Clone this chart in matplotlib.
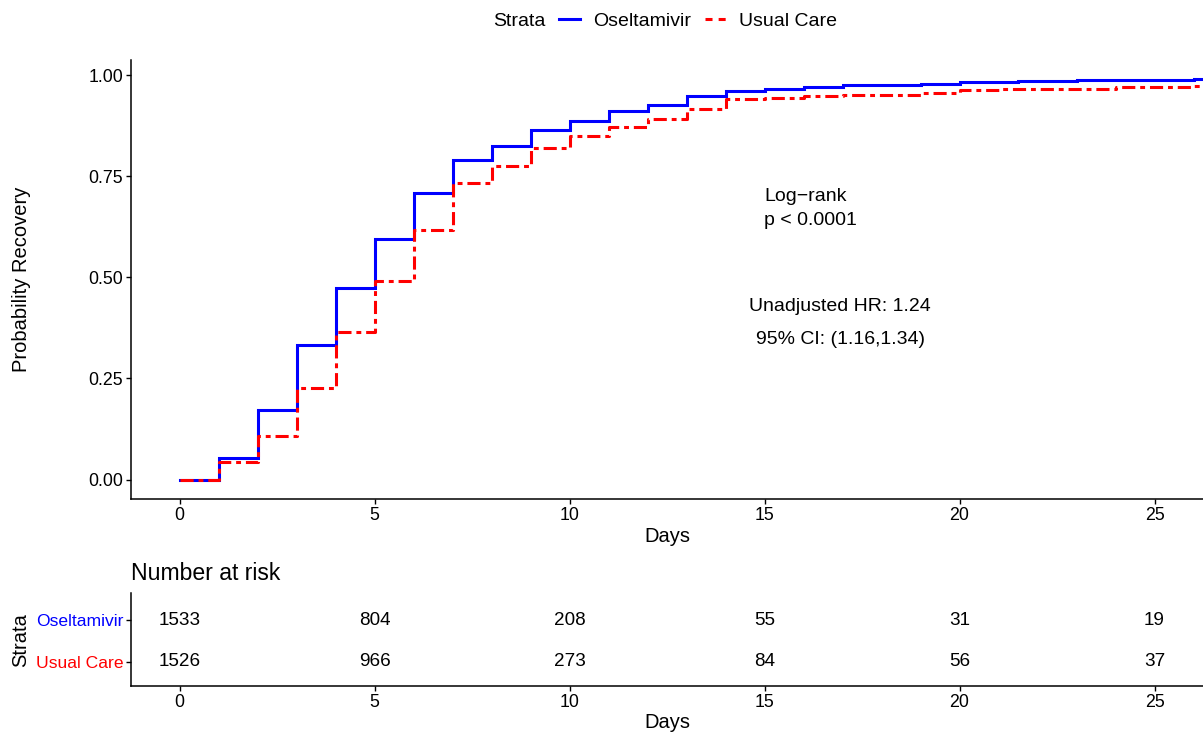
import matplotlib
matplotlib.use("Agg")
import matplotlib.pyplot as plt
from matplotlib.lines import Line2D
import numpy as np

plt.rcParams['font.family'] = ['Liberation Sans', 'DejaVu Sans']

# ---- data ----
strata = ["Oseltamivir", "Usual Care"]
colors = ["#0000FF", "#FF0000"]

osel_time = [0, 1, 2, 3, 4, 5, 6, 7, 8, 9, 10, 11, 12, 13, 14, 15, 16, 17, 19, 20, 21.5, 23, 24, 26, 27]
osel_prob = [0.0, 0.054, 0.171, 0.332, 0.474, 0.595, 0.710, 0.791, 0.824, 0.864, 0.886, 0.911, 0.927,
             0.948, 0.962, 0.966, 0.970, 0.975, 0.978, 0.983, 0.986, 0.988, 0.989, 0.991, 0.991]

usual_time = [0, 1, 2, 3, 4, 5, 6, 7, 8, 9, 10, 11, 12, 13, 14, 15, 16, 17, 19, 20, 21, 24, 26, 27]
usual_prob = [0.0, 0.043, 0.107, 0.227, 0.366, 0.492, 0.618, 0.733, 0.776, 0.820, 0.849, 0.872, 0.892,
              0.917, 0.941, 0.945, 0.949, 0.951, 0.957, 0.963, 0.967, 0.971, 0.974, 0.974]

risk_times = [0, 5, 10, 15, 20, 25]
risk_osel = [1533, 804, 208, 55, 31, 19]
risk_usual = [1526, 966, 273, 84, 56, 37]

x_ticks = [0, 5, 10, 15, 20, 25]
y_ticks = [0.0, 0.25, 0.50, 0.75, 1.00]
y_ticklabels = ["0.00", "0.25", "0.50", "0.75", "1.00"]

# ---- figure ----
W, H = 1203, 738
fig = plt.figure(figsize=(W / 100, H / 100), dpi=100)

def px_axes(left, top, right, bottom):
    return fig.add_axes([left / W, 1 - bottom / H, (right - left) / W, (bottom - top) / H])

TICK_FS = 12.8
LAB_FS = 14.5
x0_px, px_per_day = 179.5, 39.0
xlim = ((131 - x0_px) / px_per_day, (1203 - x0_px) / px_per_day)

ax = px_axes(131, 60, 1203, 499)
ax.step(osel_time, osel_prob, where='post', color=colors[0], lw=2.2, solid_joinstyle='miter')
ax.step(usual_time, usual_prob, where='post', color=colors[1], lw=2.2,
        linestyle=(0, (4.3, 1.6, 1.6, 1.6)))
ax.set_xlim(*xlim)
ax.set_ylim(-0.0482, 1.0379)
ax.set_xticks(x_ticks)
ax.set_yticks(y_ticks)
ax.set_yticklabels(y_ticklabels)
for s in ['top', 'right']:
    ax.spines[s].set_visible(False)
for s in ['left', 'bottom']:
    ax.spines[s].set_linewidth(1.1)
ax.tick_params(axis='both', labelsize=TICK_FS, length=3.5, width=1.0, pad=2, colors='black')
ax.set_ylabel("Probability Recovery", fontsize=LAB_FS, va='center')
ax.yaxis.set_label_coords(-0.102, 0.5)
ax.set_xlabel("Days", fontsize=LAB_FS, va='center')
ax.xaxis.set_label_coords(0.5, -0.0843)

ANN_FS = 14
ax.text(15, 0.688, "Log\u2212rank", fontsize=ANN_FS, ha='left', va='baseline')
ax.text(15, 0.630, "p < 0.0001", fontsize=ANN_FS, ha='left', va='baseline')
ax.text(16.94, 0.4176, "Unadjusted HR: 1.24", fontsize=ANN_FS, ha='center', va='baseline')
ax.text(16.94, 0.3352, "95% CI: (1.16,1.34)", fontsize=ANN_FS, ha='center', va='baseline')

# ---- legend ----
fig.text(493.3 / W, 1 - 21 / H, "Strata", fontsize=14, ha='left', va='center')
h1 = Line2D([], [], color=colors[0], lw=2.2)
h2 = Line2D([], [], color=colors[1], lw=2.2, linestyle=(0, (2.3, 2.0)))
fig.legend([h1, h2], strata, ncol=2, loc='center left', bbox_to_anchor=(559 / W, 1 - 21 / H),
           frameon=False, fontsize=14, handlelength=1.08, handletextpad=0.65,
           columnspacing=0.76, borderpad=0, borderaxespad=0)

# ---- risk table ----
ax2 = px_axes(131, 592.7, 1203, 686)
rows_y = [2, 1]
for yv, counts in zip(rows_y, [risk_osel, risk_usual]):
    for t, n in zip(risk_times, counts):
        ax2.text(t, yv, str(n), ha='center', va='center', fontsize=13.6)
ax2.set_xlim(*xlim)
ax2.set_ylim(0.42, 2.655)
ax2.set_xticks(x_ticks)
ax2.set_yticks(rows_y)
ax2.set_yticklabels(strata)
for lbl, c in zip(ax2.get_yticklabels(), colors):
    lbl.set_color(c)
for s in ['top', 'right']:
    ax2.spines[s].set_visible(False)
for s in ['left', 'bottom']:
    ax2.spines[s].set_linewidth(1.1)
ax2.tick_params(axis='both', length=3.5, width=1.0, pad=2)
ax2.tick_params(axis='x', labelsize=TICK_FS)
ax2.tick_params(axis='y', labelsize=12.6)
ax2.set_ylabel("Strata", fontsize=LAB_FS, va='center')
ax2.yaxis.set_label_coords(-0.1029, 0.493)
ax2.set_xlabel("Days", fontsize=LAB_FS, va='center')
ax2.xaxis.set_label_coords(0.5, -0.386)
ax2.text(0, (686 - 573) / (686 - 592.7), "Number at risk", transform=ax2.transAxes,
         fontsize=16.6, ha='left', va='center')

fig.savefig("out.png", dpi=100)
